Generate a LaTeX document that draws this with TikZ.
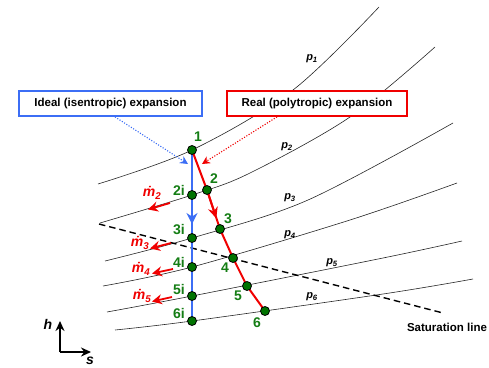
\documentclass[tikz,border=0pt]{standalone}
\usepackage{fontspec}
\setmainfont{Liberation Sans}
\usetikzlibrary{arrows.meta,backgrounds}
\definecolor{myblue}{RGB}{60,110,245}
\definecolor{myred}{RGB}{240,0,0}
\definecolor{mygreen}{RGB}{20,125,20}
\definecolor{dotgreen}{RGB}{0,115,0}
\begin{document}
\begin{tikzpicture}[x=1pt,y=-1pt,
 pt/.style={circle,draw=black,fill=dotgreen,line width=0.8pt,minimum size=9pt,inner sep=0pt},
 lbl/.style={text=mygreen,font=\fontsize{14}{14}\selectfont\bfseries,inner sep=0pt},
 isobar/.style={draw=black!85,line width=0.6pt},
 plbl/.style={font=\fontsize{11}{11}\selectfont\bfseries\itshape,inner sep=0pt},
 mlbl/.style={text=myred,font=\fontsize{14}{14}\selectfont\bfseries\itshape,inner sep=0pt},
 marrow/.style={myred,line width=1.8pt,-{Stealth[length=10pt,width=10pt]}},
 boxlbl/.style={draw,line width=1.8pt,fill=white,font=\fontsize{11.5}{11.5}\selectfont\bfseries,minimum height=25pt,inner sep=0pt},
 axlbl/.style={font=\fontsize{14}{14}\selectfont\bfseries\itshape,inner sep=0pt},
 dotarrow/.style={line width=1.1pt,dash pattern=on 1.1pt off 1.6pt,-{Stealth[length=8pt,width=8pt]}}
]
\useasboundingbox (0,0) rectangle (489,367);

% state points
\node[pt] (n1) at (192,150) {};
\node[pt] (n2i) at (192,195) {};
\node[pt] (n2) at (207,190) {};
\node[pt] (n3i) at (192,238) {};
\node[pt] (n3) at (220,229) {};
\node[pt] (n4i) at (192,267) {};
\node[pt] (n4) at (233,258) {};
\node[pt] (n5i) at (192,296) {};
\node[pt] (n5) at (247,286) {};
\node[pt] (n6i) at (192,321) {};
\node[pt] (n6) at (265,311) {};

\begin{scope}[on background layer]
 \draw[isobar] plot[smooth,tension=0.55] coordinates {(98,184) (192,150) (293,90) (379,7)};
 \draw[isobar] plot[smooth,tension=0.55] coordinates {(100,223) (192,195) (250,173) (350,117) (435,47)};
 \draw[isobar] plot[smooth,tension=0.55] coordinates {(105,261) (192,238) (308,200) (453,123)};
 \draw[isobar] plot[smooth,tension=0.55] coordinates {(103,286) (192,267) (350,220) (457,183)};
 \draw[isobar] plot[smooth,tension=0.55] coordinates {(107,312) (192,296) (383,258) (462,241)};
 \draw[isobar] plot[smooth,tension=0.55] coordinates {(115,330) (192,321) (383,294) (473,279)};
 \coordinate (s1) at (99,224);
 \coordinate (s2) at (443,313);
 \draw[line width=1.4pt,dash pattern=on 6.5pt off 4pt] (s1) -- (s2);
 \draw[myblue,line width=2.8pt] (n1.center) -- (n6i.center);
 \coordinate (ba) at (192,224);
 \draw[myblue,line width=2.8pt,-{Stealth[length=11pt,width=11pt]}] (n2i.center) -- (ba);
 \draw[myred,line width=2pt] (n1.center) -- (n2.center) -- (n3.center) -- (n4.center) -- (n5.center) -- (n6.center);
 \coordinate (ra) at (216.3,218.3);
 \draw[myred,line width=2pt,-{Stealth[length=11pt,width=10pt]}] (n2.center) -- (ra);
\end{scope}

% point labels
\node[lbl] (l1) at (198,137) {1};
\node[lbl] (l2) at (214,179) {2};
\node[lbl] (l3) at (228,219) {3};
\node[lbl] (l4) at (225,268) {4};
\node[lbl] (l5) at (238,296) {5};
\node[lbl] (l6) at (257,323) {6};
\node[lbl] (l2i) at (179,190) {2i};
\node[lbl] (l3i) at (179,230) {3i};
\node[lbl] (l4i) at (179,262) {4i};
\node[lbl] (l5i) at (179,289) {5i};
\node[lbl] (l6i) at (179,313) {6i};

% pressure labels
\node[plbl] (p1) at (312,59) {p\textsubscript{1}};
\node[plbl] (p2) at (287,147) {p\textsubscript{2}};
\node[plbl] (p3) at (290,198) {p\textsubscript{3}};
\node[plbl] (p4) at (290,235) {p\textsubscript{4}};
\node[plbl] (p5) at (332,263) {p\textsubscript{5}};
\node[plbl] (p6) at (312,297) {p\textsubscript{6}};

% extraction arrows
\coordinate (m2a) at (170,203); \coordinate (m2b) at (148,209.5);
\coordinate (m3a) at (171,243); \coordinate (m3b) at (150,248.5);
\coordinate (m4a) at (173,269); \coordinate (m4b) at (152,273.5);
\coordinate (m5a) at (172,297); \coordinate (m5b) at (152,301.5);
\draw[marrow] (m2a) -- (m2b);
\draw[marrow] (m3a) -- (m3b);
\draw[marrow] (m4a) -- (m4b);
\draw[marrow] (m5a) -- (m5b);
\node[mlbl] (mm2) at (152,193) {ṁ\textsubscript{2}};
\node[mlbl] (mm3) at (140,243) {ṁ\textsubscript{3}};
\node[mlbl] (mm4) at (141,269) {ṁ\textsubscript{4}};
\node[mlbl] (mm5) at (142,296) {ṁ\textsubscript{5}};

% boxes
\node[boxlbl,draw=myblue,minimum width=183pt] (ibox) at (110.5,103.5) {Ideal (isentropic) expansion};
\node[boxlbl,draw=myred,minimum width=180pt] (rbox) at (317,103.5) {Real (polytropic) expansion};
\coordinate (bt) at (188,164);
\coordinate (rt) at (202,164);
\draw[dotarrow,myblue] ([xshift=4.5pt]ibox.south) -- (bt);
\draw[dotarrow,myred] ([xshift=-40pt]rbox.south) -- (rt);

% saturation label
\node[font=\fontsize{11.5}{11.5}\selectfont\bfseries,inner sep=0pt] (sat) at (447,327) {Saturation line};

% axes
\coordinate (o) at (60,352);
\coordinate (hy) at (60,321);
\coordinate (sx) at (91,352);
\draw[line width=1.6pt,-{Stealth[length=10pt,width=9pt]}] (o) -- (hy);
\draw[line width=1.6pt,-{Stealth[length=10pt,width=9pt]}] (o) -- (sx);
\node[axlbl] (hl) at (48,324) {h};
\node[axlbl] (sl) at (90,361) {s};
\end{tikzpicture}
\end{document}
